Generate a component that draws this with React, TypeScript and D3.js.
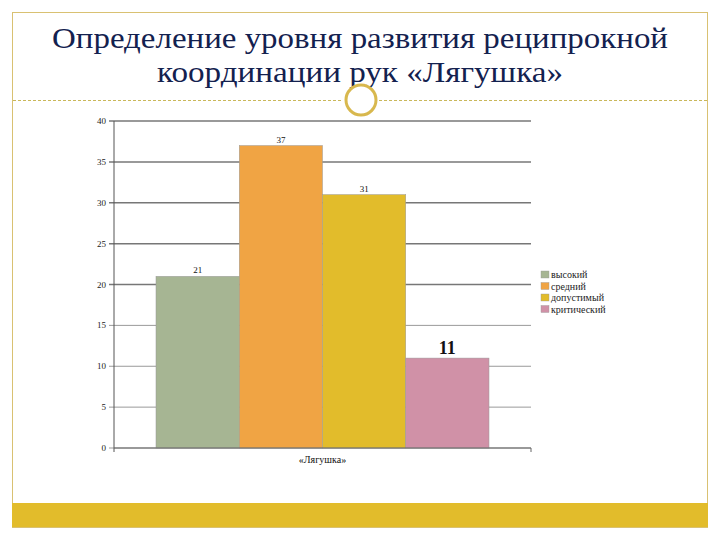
import React from "react";
import * as d3 from "d3";

const categories = ["высокий", "средний", "допустимый", "критический"];
const values = [21, 37, 31, 11];
const colors = ["#a6b593", "#f0a444", "#e2bc2b", "#d091a7"];
const yTicks = [0, 5, 10, 15, 20, 25, 30, 35, 40];
const groupLabel = "«Лягушка»";
const titleLines = ["Определение уровня развития реципрокной", "координации рук «Лягушка»"];

export default function App() {
  const W = 720, H = 540;
  const plotL = 114, plotR = 531, plotT = 121, plotB = 448;
  const y = d3.scaleLinear().domain([0, 40]).range([plotB, plotT]);
  const xg = d3.scaleBand().domain([groupLabel]).range([plotL, plotR]).paddingInner(0).paddingOuter(0.1);
  const xb = d3.scaleBand().domain(categories).range([156, 489]);
  const titleLen = [616, 406];
  return (
    <div style={{ position: "fixed", left: 0, top: 0, width: W, height: H, fontFamily: "Liberation Serif" }}>
      <svg width={W} height={H} fontFamily="Liberation Serif" style={{ display: "block", fontFamily: "Liberation Serif" }}>
        <rect x={0} y={0} width={W} height={H} fill="#fff" />
        <rect x={12.5} y={12.5} width={695} height={515} fill="none" stroke="#d9c172" strokeWidth={1} />
        <rect x={12} y={503} width={696} height={24} fill="#e2bc2b" />
        {titleLines.map((t, i) => (
          <text key={i} x={360} y={48 + i * 34} textAnchor="middle" fontSize={30} textLength={titleLen[i]} lengthAdjust="spacingAndGlyphs" fill="#13214f">{t}</text>
        ))}
        <line x1={13} x2={343} y1={100.5} y2={100.5} stroke="#c9b75a" strokeDasharray="3,2" strokeWidth={1} />
        <line x1={379} x2={707} y1={100.5} y2={100.5} stroke="#c9b75a" strokeDasharray="3,2" strokeWidth={1} />
        <circle cx={361} cy={100} r={15} fill="#fff" stroke="#d8b84e" strokeWidth={3} />
        {yTicks.map(t => (
          <g key={t}>
            <line x1={plotL - 5} x2={plotR} y1={y(t)} y2={y(t)} stroke={t >= 20 ? "#777" : "#999"} strokeWidth={t >= 20 ? 1.5 : 1} />
            <text x={plotL - 8} y={y(t) + 3} textAnchor="end" fontSize={9} fill="#222">{t}</text>
          </g>
        ))}
        <line x1={plotL} x2={plotL} y1={plotT} y2={plotB + 4} stroke="#555" strokeWidth={1} />
        {categories.map((c, i) => (
          <g key={c}>
            <rect x={xb(c)} y={y(values[i])} width={xb.bandwidth()} height={plotB - y(values[i])} fill={colors[i]} stroke="#999" strokeWidth={0.5} />
            <text x={(xb(c) as number) + xb.bandwidth() / 2} y={y(values[i]) - (i === 3 ? 4 : 3)} textAnchor="middle" fontSize={i === 3 ? 18 : 9} fontWeight={i === 3 ? "bold" : "normal"} fill="#111">{values[i]}</text>
          </g>
        ))}
        <line x1={plotL} x2={plotR} y1={plotB} y2={plotB} stroke="#666" strokeWidth={1} />
        <line x1={plotR} x2={plotR} y1={plotB} y2={plotB + 4} stroke="#666" strokeWidth={1} />
        <text x={(xg(groupLabel) as number) + xg.bandwidth() / 2} y={463} textAnchor="middle" fontSize={10} fill="#111">{groupLabel}</text>
        {categories.map((c, i) => (
          <g key={c}>
            <rect x={541} y={271 + i * 11.5} width={8} height={7} fill={colors[i]} stroke="#999" strokeWidth={0.4} />
            <text x={551} y={278 + i * 11.5} fontSize={10} fill="#222">{c}</text>
          </g>
        ))}
      </svg>
    </div>
  );
}
